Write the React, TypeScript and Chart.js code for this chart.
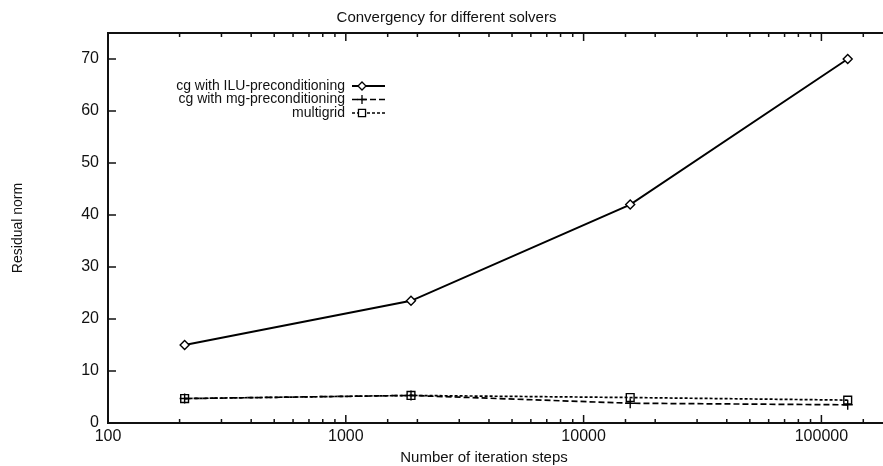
import React, { useEffect, useRef } from "react";
import { Chart, registerables } from "chart.js";

Chart.register(...registerables);

// Iteration counts at which each solver was measured (log axis)
const iterationSteps = [210, 1880, 15700, 129000];

// Residual norm per solver
const iluResidual = [15, 23.5, 42, 70];
const mgPrecondResidual = [4.7, 5.3, 3.8, 3.5];
const multigridResidual = [4.7, 5.3, 4.9, 4.4];

const seriesLabels = [
  "cg with ILU-preconditioning",
  "cg with mg-preconditioning",
  "multigrid",
];

// Labelled decades on the x axis and labelled values on the y axis
const xTickLabels = [100, 1000, 10000, 100000];
const yTickValues = [0, 10, 20, 30, 40, 50, 60, 70];

const X_MIN = 100;
const X_MAX = 200000;
const Y_MIN = 0;
const Y_MAX = 75;

const FONT = "'Liberation Sans', Arial, Helvetica, sans-serif";
const INK = "#111";

const toPoints = (ys: number[]) => iterationSteps.map((x, i) => ({ x, y: ys[i] }));

function drawMarker(ctx: CanvasRenderingContext2D, style: string, x: number, y: number, r: number) {
  ctx.beginPath();
  if (style === "rectRot") {
    ctx.moveTo(x, y - r);
    ctx.lineTo(x + r, y);
    ctx.lineTo(x, y + r);
    ctx.lineTo(x - r, y);
    ctx.closePath();
    ctx.fillStyle = "#fff";
    ctx.fill();
  } else if (style === "rect") {
    const s = r * Math.SQRT1_2;
    ctx.rect(x - s, y - s, 2 * s, 2 * s);
    ctx.fillStyle = "#fff";
    ctx.fill();
  } else {
    ctx.moveTo(x - r, y);
    ctx.lineTo(x + r, y);
    ctx.moveTo(x, y - r);
    ctx.lineTo(x, y + r);
  }
  ctx.stroke();
}

// Box around the plot with inward tick marks on every drawn side, plus x-axis title
const framePlugin = {
  id: "frame",
  afterDraw(chart: any) {
    const { ctx, chartArea: ca } = chart;
    const xs = chart.scales.x;
    const ys = chart.scales.y;
    ctx.save();
    ctx.strokeStyle = INK;
    ctx.lineWidth = 2;
    ctx.setLineDash([]);
    ctx.beginPath();
    ctx.moveTo(ca.right + 2, ca.top);
    ctx.lineTo(ca.left, ca.top);
    ctx.lineTo(ca.left, ca.bottom);
    ctx.lineTo(ca.right + 2, ca.bottom);
    ctx.stroke();

    ctx.lineWidth = 1.5;
    ctx.beginPath();
    for (const t of xs.ticks) {
      const px = xs.getPixelForValue(t.value);
      const len = xTickLabels.includes(t.value) ? 8 : 4;
      ctx.moveTo(px, ca.bottom);
      ctx.lineTo(px, ca.bottom - len);
      ctx.moveTo(px, ca.top);
      ctx.lineTo(px, ca.top + len);
    }
    for (const t of ys.ticks) {
      const py = ys.getPixelForValue(t.value);
      ctx.moveTo(ca.left, py);
      ctx.lineTo(ca.left + 8, py);
    }
    ctx.stroke();

    ctx.fillStyle = INK;
    ctx.font = `15px ${FONT}`;
    ctx.textAlign = "center";
    ctx.textBaseline = "middle";
    ctx.fillText("Number of iteration steps", 484, 458);
    ctx.restore();
  },
};

// Key inside the plot: right-aligned text followed by a line sample with its marker
const keyPlugin = {
  id: "key",
  afterDraw(chart: any) {
    const { ctx } = chart;
    ctx.save();
    chart.data.datasets.forEach((ds: any, i: number) => {
      const y = 86 + i * 13.5;
      ctx.fillStyle = INK;
      ctx.font = `14px ${FONT}`;
      ctx.textAlign = "right";
      ctx.textBaseline = "middle";
      ctx.fillText(ds.label, 345, y);
      ctx.strokeStyle = "#000";
      ctx.lineWidth = ds.borderWidth;
      ctx.setLineDash(ds.borderDash || []);
      ctx.beginPath();
      ctx.moveTo(352, y);
      ctx.lineTo(385, y);
      ctx.stroke();
      ctx.setLineDash([]);
      ctx.lineWidth = 1.3;
      drawMarker(ctx, ds.pointStyle, 362, y, ds.pointRadius - 0.5);
    });
    ctx.restore();
  },
};

export default function App() {
  const canvasRef = useRef<HTMLCanvasElement | null>(null);

  useEffect(() => {
    const canvas = canvasRef.current;
    if (!canvas) return;
    const chart = new Chart(canvas, {
      type: "line",
      data: {
        datasets: [
          {
            label: seriesLabels[0],
            data: toPoints(iluResidual),
            borderColor: "#000",
            borderWidth: 1.9,
            pointStyle: "rectRot",
            pointRadius: 4.5,
            pointBorderWidth: 1.4,
            pointBackgroundColor: "#fff",
            pointBorderColor: "#000",
          },
          {
            label: seriesLabels[1],
            data: toPoints(mgPrecondResidual),
            borderColor: "#000",
            borderWidth: 1.7,
            borderDash: [6, 3],
            pointStyle: "cross",
            pointRadius: 5,
            pointBorderWidth: 1.4,
            pointBorderColor: "#000",
          },
          {
            label: seriesLabels[2],
            data: toPoints(multigridResidual),
            borderColor: "#000",
            borderWidth: 1.7,
            borderDash: [3, 2],
            pointStyle: "rect",
            pointRadius: 5.5,
            pointBorderWidth: 1.4,
            pointBackgroundColor: "rgba(255,255,255,0)",
            pointBorderColor: "#000",
          },
        ],
      },
      options: {
        responsive: false,
        animation: false,
        events: [],
        layout: { padding: { left: 0, right: 11, top: 0, bottom: 0 } },
        plugins: {
          legend: { display: false },
          tooltip: { enabled: false },
          title: {
            display: true,
            text: "Convergency for different solvers",
            color: INK,
            font: { family: FONT, size: 15, weight: "normal" },
            padding: { top: 9, bottom: 6 },
          },
        },
        scales: {
          x: {
            type: "logarithmic",
            min: X_MIN,
            max: X_MAX,
            grid: { display: false, drawTicks: false },
            border: { display: false },
            afterFit: (scale: any) => {
              scale.height = 43;
            },
            ticks: {
              autoSkip: false,
              maxRotation: 0,
              padding: 4,
              color: INK,
              font: { family: FONT, size: 16 },
              callback: (v: any) => (xTickLabels.includes(Number(v)) ? String(v) : ""),
            },
          },
          y: {
            min: Y_MIN,
            max: Y_MAX,
            grid: { display: false, drawTicks: false },
            border: { display: false },
            afterBuildTicks: (scale: any) => {
              scale.ticks = yTickValues.map((value) => ({ value }));
            },
            afterFit: (scale: any) => {
              scale.width = 108;
            },
            ticks: {
              padding: 9,
              color: INK,
              font: { family: FONT, size: 16 },
            },
            title: {
              display: true,
              text: "Residual norm",
              color: INK,
              font: { family: FONT, size: 14 },
              padding: { top: 10, bottom: 0 },
            },
          },
        },
      },
      plugins: [framePlugin, keyPlugin],
    });
    return () => chart.destroy();
  }, []);

  return (
    <div
      style={{
        position: "fixed",
        left: 0,
        top: 0,
        width: 883,
        height: 466,
        overflow: "hidden",
        background: "#fff",
      }}
    >
      <canvas ref={canvasRef} width={904} height={466} style={{ width: 904, height: 466, display: "block" }} />
    </div>
  );
}
